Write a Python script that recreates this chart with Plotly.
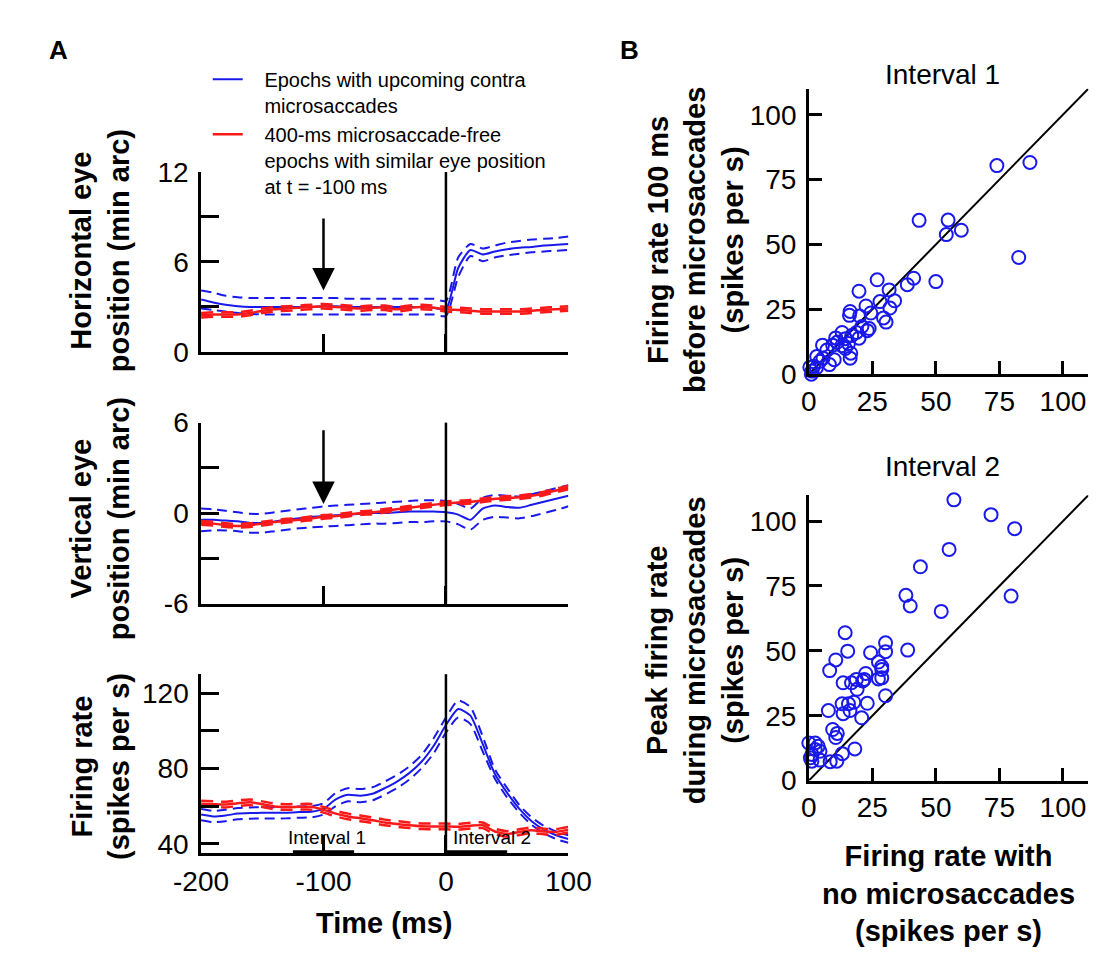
import plotly.graph_objects as go

# ---------------- DATA ----------------
t = [-200, -190, -180, -170, -160, -150, -140, -130, -120, -110, -100,
     -90, -80, -70, -60, -50, -40, -30, -20, -10, 0,
     10, 20, 30, 40, 50, 60, 70, 80, 90, 100]

# Horizontal eye position (min arc)
h_blue = [3.5, 3.3, 3.15, 3.05, 3.0, 3.0, 3.0, 3.0, 3.0, 3.0, 3.05,
          3.05, 3.0, 3.0, 3.0, 3.0, 3.0, 3.0, 3.0, 2.95, 2.85,
          5.6, 6.8, 6.5, 6.7, 6.85, 6.95, 7.0, 7.1, 7.15, 7.2]
h_blue_hi = [4.1, 3.95, 3.75, 3.65, 3.6, 3.6, 3.6, 3.6, 3.6, 3.6, 3.6,
             3.6, 3.55, 3.55, 3.55, 3.55, 3.55, 3.55, 3.55, 3.55, 3.4,
             6.3, 7.2, 6.9, 7.1, 7.3, 7.4, 7.5, 7.55, 7.6, 7.7]
h_blue_lo = [2.9, 2.8, 2.7, 2.6, 2.55, 2.5, 2.5, 2.5, 2.5, 2.5, 2.5,
             2.5, 2.5, 2.5, 2.5, 2.5, 2.5, 2.5, 2.5, 2.5, 2.4,
             5.0, 6.4, 6.05, 6.3, 6.45, 6.55, 6.65, 6.7, 6.75, 6.8]
h_red = [2.45, 2.5, 2.5, 2.5, 2.6, 2.75, 2.85, 2.9, 2.95, 3.0, 3.05,
         3.0, 2.95, 2.9, 2.95, 2.95, 2.85, 2.95, 3.0, 2.95, 2.85,
         2.8, 2.75, 2.7, 2.7, 2.7, 2.7, 2.75, 2.8, 2.85, 2.9]
h_red_hi = [2.6, 2.65, 2.65, 2.65, 2.75, 2.9, 3.0, 3.05, 3.1, 3.15, 3.2,
            3.15, 3.1, 3.05, 3.1, 3.1, 3.0, 3.1, 3.15, 3.1, 3.0,
            2.95, 2.9, 2.85, 2.85, 2.85, 2.85, 2.9, 2.95, 3.0, 3.05]
h_red_lo = [2.3, 2.35, 2.35, 2.35, 2.45, 2.6, 2.7, 2.75, 2.8, 2.85, 2.9,
            2.85, 2.8, 2.75, 2.8, 2.8, 2.7, 2.8, 2.85, 2.8, 2.7,
            2.65, 2.6, 2.55, 2.55, 2.55, 2.55, 2.6, 2.65, 2.7, 2.75]

# Vertical eye position (min arc)
v_blue = [-0.45, -0.45, -0.5, -0.55, -0.65, -0.65, -0.55, -0.45, -0.35, -0.25, -0.2,
          -0.15, -0.1, -0.05, 0.0, 0.0, 0.05, 0.1, 0.1, 0.1, 0.05,
          -0.1, -0.45, 0.3, 0.5, 0.4, 0.35, 0.55, 0.75, 0.95, 1.15]
v_blue_hi = [0.3, 0.25, 0.15, 0.05, -0.05, -0.05, 0.05, 0.15, 0.25, 0.35, 0.45,
             0.5, 0.55, 0.6, 0.65, 0.7, 0.75, 0.8, 0.85, 0.85, 0.8,
             0.6, 0.3, 1.0, 1.2, 1.15, 1.1, 1.25, 1.45, 1.65, 1.85]
v_blue_lo = [-1.2, -1.15, -1.15, -1.2, -1.3, -1.3, -1.2, -1.1, -1.0, -0.95, -0.9,
             -0.85, -0.8, -0.75, -0.7, -0.7, -0.65, -0.6, -0.6, -0.55, -0.55,
             -0.75, -1.1, -0.45, -0.25, -0.3, -0.35, -0.2, 0.0, 0.2, 0.45]
v_red = [-0.65, -0.7, -0.8, -0.85, -0.8, -0.7, -0.6, -0.5, -0.45, -0.35, -0.25,
         -0.2, -0.1, 0.0, 0.05, 0.15, 0.25, 0.35, 0.45, 0.55, 0.65,
         0.7, 0.75, 0.85, 0.95, 1.0, 1.05, 1.15, 1.3, 1.5, 1.7]
v_red_hi = [-0.53, -0.58, -0.68, -0.73, -0.68, -0.58, -0.48, -0.38, -0.33, -0.23, -0.13,
            -0.08, 0.02, 0.12, 0.17, 0.27, 0.37, 0.47, 0.57, 0.67, 0.77,
            0.82, 0.87, 0.97, 1.07, 1.12, 1.17, 1.27, 1.42, 1.62, 1.82]
v_red_lo = [-0.77, -0.82, -0.92, -0.97, -0.92, -0.82, -0.72, -0.62, -0.57, -0.47, -0.37,
            -0.32, -0.22, -0.12, -0.07, 0.03, 0.13, 0.23, 0.33, 0.43, 0.53,
            0.58, 0.63, 0.73, 0.83, 0.88, 0.93, 1.03, 1.18, 1.38, 1.58]

# Firing rate (spikes per s)
f_blue = [55.5, 54.5, 55.0, 56.0, 56.3, 56.4, 56.4, 56.5, 56.8, 57.0, 58.5,
          63.5, 66.0, 65.5, 66.5, 69.5, 73.0, 77.5, 83.5, 92.0, 103.0,
          111.5, 108.0, 93.0, 77.0, 67.0, 58.5, 52.0, 47.5, 44.5, 42.5]
f_blue_hi = [58.5, 57.5, 58.0, 59.0, 59.3, 59.4, 59.4, 59.5, 59.8, 60.0, 61.5,
             67.0, 69.5, 69.0, 70.0, 73.0, 76.5, 81.0, 87.0, 96.0, 107.0,
             116.0, 112.5, 97.0, 79.5, 69.5, 60.5, 54.0, 49.5, 46.5, 44.5]
f_blue_lo = [52.5, 51.5, 52.0, 53.0, 53.3, 53.4, 53.4, 53.5, 53.8, 54.0, 55.5,
             60.0, 62.5, 62.0, 63.0, 66.0, 69.5, 74.0, 80.0, 88.0, 99.0,
             107.0, 103.5, 89.0, 74.5, 64.5, 56.5, 50.0, 45.5, 42.5, 40.5]
f_red = [61.3, 61.0, 60.8, 61.5, 62.0, 61.0, 59.8, 59.5, 59.6, 59.6, 58.0,
         56.0, 54.5, 53.5, 52.5, 51.3, 50.5, 49.8, 49.3, 49.2, 49.2,
         49.0, 49.6, 49.8, 46.5, 45.2, 46.2, 47.2, 46.5, 46.3, 47.5]
f_red_hi = [62.8, 62.5, 62.3, 63.0, 63.5, 62.5, 61.3, 61.0, 61.1, 61.1, 59.5,
            57.5, 56.0, 55.0, 54.0, 52.8, 52.0, 51.3, 50.8, 50.7, 50.7,
            50.5, 51.1, 51.3, 48.0, 46.7, 47.7, 48.7, 48.0, 47.8, 49.0]
f_red_lo = [59.8, 59.5, 59.3, 60.0, 60.5, 59.5, 58.3, 58.0, 58.1, 58.1, 56.5,
            54.5, 53.0, 52.0, 51.0, 49.8, 49.0, 48.3, 47.8, 47.7, 47.7,
            47.5, 48.1, 48.3, 45.0, 43.7, 44.7, 45.7, 45.0, 44.8, 46.0]

interval1 = [-125, -75]
interval2 = [0, 50]

# Panel B scatter: Interval 1
b1_x = [74, 87, 43.4, 54.8, 54.1, 60, 82.6, 50, 26.9, 19.75, 38.75, 41.25, 31.6,
        33.75, 28, 22.5, 31.9, 16.25, 16, 29.4, 30.4, 24.4, 20, 20.9, 23.75, 23,
        19.75, 13.1, 10.6, 16.9, 15.6, 14.4, 16.5, 16.25, 10, 5.4, 7.1, 8.1, 4.4,
        3.1, 1.9, 0.4, 1.25, 1, 3, 11.25, 9.4, 18.75, 14.4, 5.6, 13]
b1_y = [80.4, 81.6, 59.3, 59.4, 53.8, 55.5, 45, 35.7, 36.4, 32, 34.5, 37, 32.5,
        28.3, 28, 26.3, 25.5, 24.2, 22.7, 21.7, 20.1, 23.6, 22.4, 18.4, 17.6, 16.8,
        13.9, 16.1, 14, 14.9, 11.8, 9.9, 8.1, 6.2, 5.6, 11.2, 9.3, 3.7, 5,
        6.8, 3.1, 2.7, 1.2, 0, 2.5, 12.4, 11.2, 16.1, 13.7, 6.2, 11]

# Panel B scatter: Interval 2
b2_x = [57.1, 71.7, 81, 55.2, 43.9, 38.2, 39.9, 79.6, 52.1, 38.9, 14.3, 15.3, 10.6,
        8.2, 24.3, 30.2, 30.2, 27.4, 28.7, 28.7, 28.7, 27.4, 22.4, 21.8, 18.7, 21.2,
        13.5, 16.8, 19, 23, 17.7, 15.6, 13.1, 16.2, 13.5, 20.8, 30.2, 7.7, 9.4, 11.2,
        10.6, 18.1, 13.2, 11, 8.4, 0, 2.5, 3.7, 4.4, 1.2, 1.2, 4.4, 2.5, 0.6]
b2_y = [108.2, 102.5, 97.1, 89.1, 82.4, 71.4, 67.3, 71.1, 65.2, 50.3, 57, 49.9, 46.5,
        42.4, 49.3, 53.1, 49.7, 45.7, 44, 42.8, 39.6, 39.2, 41.3, 39, 39, 38.4,
        37.7, 37.7, 35.2, 29.8, 30.2, 29.6, 29.6, 27, 25.8, 24.2, 32.7, 27, 19.7, 18.2,
        16.6, 12.2, 10.4, 7.5, 7.3, 14.5, 14.5, 13.2, 11.3, 10.1, 7.5, 7.9, 12, 8.8]

unity = [0, 110]

legend_blue = ["Epochs with upcoming contra", "microsaccades"]
legend_red = ["400-ms microsaccade-free", "epochs with similar eye position",
              "at t = -100 ms"]

# ---------------- STYLE ----------------
W, H = 1111, 956
BLUE = "rgb(25,25,235)"
RED = "rgb(250,25,25)"
FONT = "Liberation Sans, Arial, Helvetica, sans-serif"
TICKF = 28
TITLEF = 29
PAD = "&nbsp;&nbsp;&nbsp;"


def px_x(p):
    return p / W


def px_y(p):
    return 1 - p / H


def legend_name(lines):
    return "<br>".join(PAD + s for s in lines)


fig = go.Figure()

panels = [
    ("x", "y", h_blue, h_blue_hi, h_blue_lo, h_red, h_red_hi, h_red_lo),
    ("x2", "y2", v_blue, v_blue_hi, v_blue_lo, v_red, v_red_hi, v_red_lo),
    ("x3", "y3", f_blue, f_blue_hi, f_blue_lo, f_red, f_red_hi, f_red_lo),
]
for i, (xa, ya, bm, bh, bl, rm, rh, rl) in enumerate(panels):
    for arr in (bh, bl):
        fig.add_trace(go.Scatter(x=t, y=arr, xaxis=xa, yaxis=ya, mode="lines",
                                 line=dict(color=BLUE, width=2, dash="10px,6px",
                                           shape="spline", smoothing=0.6),
                                 showlegend=False, hoverinfo="skip"))
    fig.add_trace(go.Scatter(x=t, y=bm, xaxis=xa, yaxis=ya, mode="lines",
                             line=dict(color=BLUE, width=2, shape="spline", smoothing=0.6),
                             name=legend_name(legend_blue),
                             showlegend=(i == 0), legendgroup="b"))
    for arr in (rh, rl):
        fig.add_trace(go.Scatter(x=t, y=arr, xaxis=xa, yaxis=ya, mode="lines",
                                 line=dict(color=RED, width=2.5, dash="12px,8px",
                                           shape="spline", smoothing=0.6),
                                 showlegend=False, hoverinfo="skip"))
    fig.add_trace(go.Scatter(x=t, y=rm, xaxis=xa, yaxis=ya, mode="lines",
                             line=dict(color=RED, width=2.5, shape="spline", smoothing=0.6),
                             name=legend_name(legend_red),
                             showlegend=(i == 0), legendgroup="r"))

# interval bars
for iv in (interval1, interval2):
    fig.add_trace(go.Scatter(x=iv, y=[35, 35], xaxis="x3", yaxis="y3", mode="lines",
                             line=dict(color="black", width=6), cliponaxis=False,
                             showlegend=False, hoverinfo="skip"))

# scatter panels
for xa, ya, xs, ys in (("x4", "y4", b1_x, b1_y), ("x5", "y5", b2_x, b2_y)):
    fig.add_trace(go.Scatter(x=unity, y=unity, xaxis=xa, yaxis=ya, mode="lines",
                             line=dict(color="black", width=2), showlegend=False,
                             hoverinfo="skip"))
    fig.add_trace(go.Scatter(x=xs, y=ys, xaxis=xa, yaxis=ya, mode="markers",
                             marker=dict(symbol="circle-open", size=13, color=BLUE,
                                         line=dict(width=2, color=BLUE)),
                             cliponaxis=False, showlegend=False))

axis_common = dict(showline=True, linecolor="black", linewidth=2.5, ticks="inside",
                   tickcolor="black", tickwidth=2.5, showgrid=False, zeroline=False,
                   tickfont=dict(size=TICKF, family=FONT, color="black"))

A_x = [px_x(173), px_x(558)]
xcommon_A = dict(axis_common, range=[-200, 100], domain=A_x, ticklen=18,
                 tickvals=[-200, -100, 0, 100])

fig.update_layout(
    xaxis=dict(xcommon_A, anchor="y", showticklabels=False),
    yaxis=dict(axis_common, anchor="x", range=[0, 12], domain=[px_y(340), px_y(154)],
               tickvals=[0, 3, 6, 9, 12], ticktext=["0", "", "6", "", "12"], ticklen=18,
               ticklabelstandoff=4),
    xaxis2=dict(xcommon_A, anchor="y2", showticklabels=False),
    yaxis2=dict(axis_common, anchor="x2", range=[-6, 6], domain=[px_y(600), px_y(413)],
                tickvals=[-6, -3, 0, 3, 6], ticktext=["-6", "", "0", "", "6"], ticklen=18,
                ticklabelstandoff=4),
    xaxis3=dict(xcommon_A, anchor="y3", ticktext=["-200", "-100", "0", "100"],
                ticklabelstandoff=1),
    yaxis3=dict(axis_common, anchor="x3", range=[35, 130], domain=[px_y(858), px_y(673)],
                tickvals=[40, 60, 80, 100, 120], ticktext=["40", "", "80", "", "120"],
                ticklen=18, ticklabelstandoff=4),
    xaxis4=dict(axis_common, anchor="y4", range=[0, 110], domain=[px_x(810), px_x(1103)],
                tickvals=[0, 25, 50, 75, 100], ticklen=13, ticklabelstandoff=0),
    yaxis4=dict(axis_common, anchor="x4", range=[0, 110], domain=[px_y(363), px_y(68)],
                tickvals=[0, 25, 50, 75, 100], ticklen=13, ticklabelstandoff=4),
    xaxis5=dict(axis_common, anchor="y5", range=[0, 110], domain=[px_x(810), px_x(1103)],
                tickvals=[0, 25, 50, 75, 100], ticklen=13, ticklabelstandoff=0),
    yaxis5=dict(axis_common, anchor="x5", range=[0, 110], domain=[px_y(783), px_y(488)],
                tickvals=[0, 25, 50, 75, 100], ticklen=13, ticklabelstandoff=4),
)

# vertical lines at t = 0
for xa, ya in (("x", "y"), ("x2", "y2"), ("x3", "y3")):
    fig.add_shape(type="line", xref=xa, yref=ya + " domain", x0=0, x1=0, y0=0, y1=1,
                  line=dict(color="black", width=2.5))

ann = []


def text(s, x, y, size, bold=False, angle=0, xanchor="center", yanchor="middle",
         xref="paper", yref="paper", align="center"):
    ann.append(dict(text=("<b>%s</b>" % s) if bold else s, x=x, y=y, xref=xref, yref=yref,
                    showarrow=False, textangle=angle, xanchor=xanchor, yanchor=yanchor,
                    align=align, font=dict(size=size, family=FONT, color="black")))


text("A", px_x(24), px_y(28), 26, bold=True)
text("B", px_x(622), px_y(28), 26, bold=True)
text("Horizontal eye<br>position (min arc)", px_x(68), px_y(235), TITLEF, bold=True, angle=-90)
text("Vertical eye<br>position (min arc)", px_x(68), px_y(512), TITLEF, bold=True, angle=-90)
text("Firing rate<br>(spikes per s)", px_x(68), px_y(768), TITLEF, bold=True, angle=-90)
text("Time (ms)", px_x(365), px_y(930), TITLEF, bold=True)
text("Firing rate 100 ms<br>before microsaccades<br>(spikes per s)", px_x(691), px_y(224),
     TITLEF, bold=True, angle=-90)
text("Peak firing rate<br>during microsaccades<br>(spikes per s)", px_x(691), px_y(648),
     TITLEF, bold=True, angle=-90)
text("Firing rate with<br>no microsaccades<br>(spikes per s)", px_x(956), px_y(900),
     TITLEF, bold=True)
text("Interval 1", px_x(950), px_y(53), 28)
text("Interval 2", px_x(950), px_y(458), 28)
text("Interval 1", -97, 43.5, 19, xref="x3", yref="y3")
text("Interval 2", 4, 43.5, 19, xref="x3", yref="y3", xanchor="left")

# arrows
ann.append(dict(x=-100, y=4.1, ax=-100, ay=9, xref="x", yref="y", axref="x", ayref="y",
                showarrow=True, arrowhead=2, arrowsize=1.8, arrowwidth=2.5,
                arrowcolor="black", text=""))
ann.append(dict(x=-100, y=0.6, ax=-100, ay=5.6, xref="x2", yref="y2", axref="x2",
                ayref="y2", showarrow=True, arrowhead=2, arrowsize=1.8, arrowwidth=2.5,
                arrowcolor="black", text=""))

fig.update_layout(
    annotations=ann,
    width=W, height=H,
    margin=dict(l=0, r=0, t=0, b=0),
    paper_bgcolor="white", plot_bgcolor="white",
    font=dict(family=FONT, color="black"),
    showlegend=True,
    legend=dict(x=px_x(180), y=px_y(38), xanchor="left", yanchor="top",
                bgcolor="rgba(0,0,0,0)", borderwidth=0, valign="top",
                font=dict(size=20, family=FONT, color="black"), tracegroupgap=0),
)

fig.write_html("out.html")
